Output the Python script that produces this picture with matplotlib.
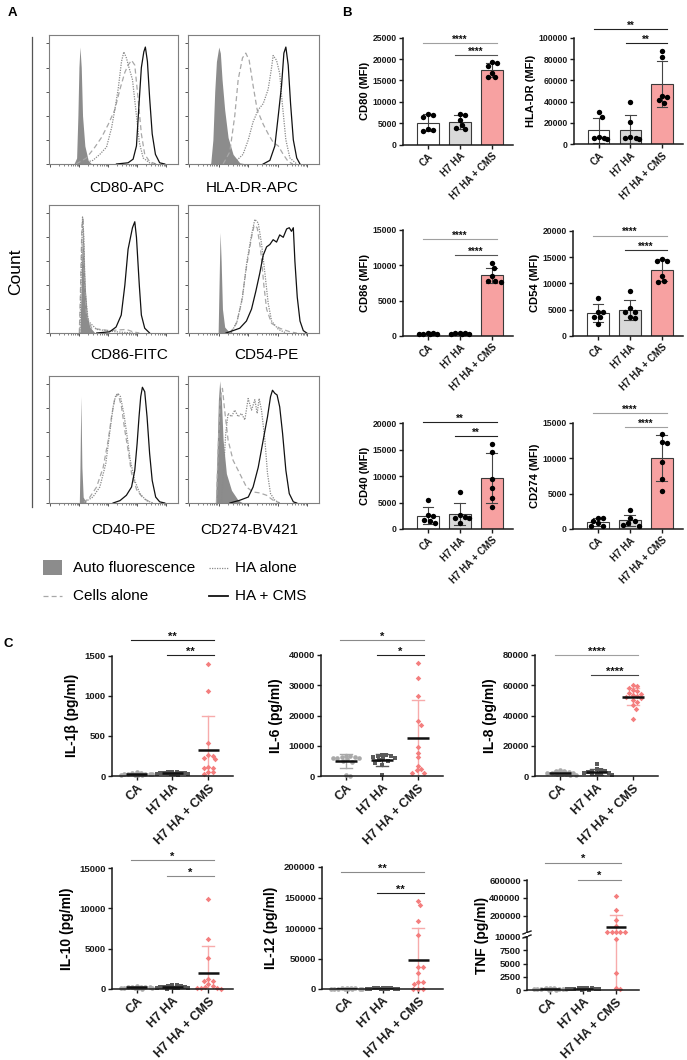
import numpy as np
import matplotlib
matplotlib.use('Agg')
import matplotlib.pyplot as plt
from matplotlib.patches import Rectangle
from matplotlib.transforms import blended_transform_factory

plt.rcParams['font.family'] = ['Liberation Sans', 'DejaVu Sans']

# ---------------- data ----------------
CATS = ['CA', 'H7 HA', 'H7 HA + CMS']
HIST_LABELS = ['CD80-APC', 'HLA-DR-APC', 'CD86-FITC', 'CD54-PE', 'CD40-PE', 'CD274-BV421']
LEGEND_LABELS = ['Auto fluorescence', 'HA alone', 'Cells alone', 'HA + CMS']

# histogram traces (x = % of axis width, y = % of modal count)
CD80_AUTO = [(19.3,0),(21.4,5),(22.4,40),(23.2,80),(24,97),(25,80),(26,40),(27.8,15),(30.4,3),(33,0)]
CD80_CELLS = [(21,0),(29,5),(35.6,14),(40.7,22),(46,33),(51,45),(55,62),(58.8,76),(61.3,82),(64,86),(66.5,82),(69,55),(71.6,25),(74.2,8),(78,2),(83,0)]
CD80_HA = [(24,0),(34,3),(39.4,8),(44.6,14),(48.5,30),(51,45),(53.6,62),(56.2,85),(58,93),(60,88),(62,80),(64.7,70),(67.3,45),(70,18),(73,5),(78,1),(83,0)]
CD80_CMS = [(52.3,0),(61.3,1),(65.2,4),(67.8,15),(69.8,50),(71.6,80),(73.5,93),(74.7,97),(76.3,85),(78,55),(80,25),(82.5,8),(85.8,1),(89.7,0)]

HLADR_AUTO = [(17.3,0),(19,20),(20.4,60),(21.7,85),(23.5,97),(24.7,92),(26,70),(28,45),(30.6,22),(34.4,8),(39.5,1),(44.6,0)]
HLADR_CELLS = [(26.8,0),(31.9,10),(35.7,40),(38.3,70),(41.6,88),(44.1,92),(46.7,86),(49.7,65),(52.8,45),(57.4,33),(61.2,25),(65,18),(68.9,15),(72.7,8),(76.5,2),(80,0)]
HLADR_HA = [(34.4,0),(42,8),(46,20),(49.7,35),(53.6,45),(57.4,50),(61.2,62),(63.8,80),(65,90),(67.6,86),(70,75),(72,50),(74.7,20),(77.8,5),(83,0)]
HLADR_CMS = [(57.4,0),(62.5,3),(66.3,15),(68.9,40),(71.4,65),(73.2,92),(74.7,97),(76.5,82),(78.3,50),(80.4,20),(83,5),(85.5,0)]

CD86_AUTO = [(24,0),(24.7,30),(25.5,70),(26.3,90),(27,70),(28,40),(29.6,15),(31.7,5),(35.6,0)]
CD86_CELLS = [(23.5,0),(24.5,40),(25.5,90),(26.5,95),(27.3,50),(29,15),(33,4),(47,2),(60,3),(65,1),(70,0)]
CD86_HA = [(24,0),(25,50),(26,97),(27,80),(28,35),(30.4,10),(36.9,3),(52,1),(65,0)]
CD86_CMS = [(37,0),(47,1),(52,5),(56,15),(58.8,40),(61.3,70),(64.7,88),(66.5,93),(67.8,80),(70,40),(71.6,15),(74.2,4),(78,0)]

CD54_AUTO = [(23,0),(23.7,40),(24.5,84),(25.3,60),(26.3,20),(28,5),(32,0)]
CD54_CELLS = [(32,0),(37,8),(40.8,25),(44.6,55),(48.5,80),(50.5,90),(52.8,88),(55.4,70),(57.9,40),(60,20),(63.8,8),(70,4),(77.8,1),(83,0)]
CD54_HA = [(33,0),(37.5,10),(41.6,30),(45,60),(48.5,82),(51,95),(53.6,92),(56.1,75),(58.7,50),(61.2,25),(63.8,10),(69,3),(75,0)]
CD54_CMS = [(29,0),(34.4,2),(39.5,4),(44.6,10),(48.5,20),(51.8,35),(54.8,50),(57.4,65),(60,72),(62.5,74),(65,78),(67.6,76),(70,82),(72.7,80),(75.3,87),(77.3,88),(79,85),(80.4,88),(81.6,60),(83.4,30),(85.5,10),(88,2),(90.6,0)]

CD40_AUTO = [(23.5,0),(24,30),(24.7,90),(25.5,30),(26.5,5),(29,0)]
CD40_CELLS = [(26.5,0),(31.7,5),(36.9,13.5),(42,30),(45.9,53),(48.5,73),(51,88),(53.6,92),(56.2,81),(58.8,61),(61.3,44.5),(64,25),(68,11),(73,4),(80,0)]
CD40_HA = [(26.5,0),(34,5),(39.4,13.5),(44,33),(47,58.6),(49.7,81),(51.8,91),(53.6,92),(55.4,89.6),(58,75.5),(60.6,55.8),(63,36),(66.5,19),(70.4,8),(75.5,2),(80.7,0)]
CD40_CMS = [(49.7,0),(55,2),(60,6.5),(64,13.5),(66.5,27.6),(68.3,50),(69.8,72.7),(71.1,89.6),(72.4,97.5),(74.2,93.8),(76,72.7),(78,41.7),(80,19),(82.7,5),(85.8,1),(89.7,0)]

CD274_AUTO = [(21,0),(22.2,44.5),(23.2,86.8),(24.2,103),(25.5,86.8),(26.8,53),(29.3,24.8),(33.2,10.7),(38.3,2.3),(42,0)]
CD274_CELLS = [(21.7,0),(23,44.5),(24.7,89.6),(26.3,96.6),(28,78),(30.6,53),(34.4,36),(39.5,24.8),(44.6,13.5),(49.7,9.3),(54.8,8.5),(60,6.5),(65,2.3),(70,0)]
CD274_HA = [(25.5,0),(27.3,30),(28.8,58.6),(30.6,75.5),(33.2,72.7),(35.7,78.3),(38.3,72.7),(40.8,75.5),(43.4,70),(45.9,88),(48.5,78.3),(51,87),(52.8,75.5),(54.3,88),(56.1,78.3),(58.7,53),(60.7,24.8),(63,7.9),(66.3,2.3),(70,0)]
CD274_CMS = [(32,0),(39.5,2.3),(46,5),(49.7,13.5),(53.6,30),(57.4,53),(60.7,72.7),(63,89.6),(64.5,95),(66.3,92.4),(68,91),(70,81),(72.2,58.6),(74.7,27.6),(77.3,7.9),(80.4,1),(83,0)]

# panel B: MFI, 6 donors per group
CD80_CA = [6930, 6540, 7170, 3270, 3430, 3580]
CD80_H7 = [7090, 6930, 5760, 4600, 3580, 3820]
CD80_CMSV = [18380, 19390, 19160, 15730, 16820, 15730]
HLADR_CA = [30500, 26000, 6500, 6000, 5500, 5000]
HLADR_H7 = [39500, 20500, 6500, 5600, 5500, 4800]
HLADR_CMSV = [87800, 81500, 39000, 45300, 44700, 41500]
CD86_CA = [400, 350, 300, 380, 320, 280]
CD86_H7 = [380, 320, 400, 300, 350, 420]
CD86_CMSV = [10250, 9550, 8450, 7800, 7800, 7650]
CD54_CA = [7280, 4620, 4620, 3540, 3670, 2220]
CD54_H7 = [8540, 4620, 5250, 4620, 3350, 3540]
CD54_CMSV = [14300, 14560, 14300, 10320, 11390, 10440]
CD40_CA = [5500, 2600, 2500, 1700, 1500, 1200]
CD40_H7 = [7070, 2650, 2020, 2210, 2020, 1200]
CD40_CMSV = [16000, 14640, 9460, 7820, 5930, 4100]
CD274_CA = [1600, 1500, 1130, 420, 800, 420]
CD274_H7 = [2650, 1600, 1100, 900, 550, 420]
CD274_CMSV = [13470, 12160, 12300, 9480, 7040, 5350]

# panel C: cytokines (pg/ml)
IL1B_CA = [8, 12, 15, 18, 20, 22, 25, 28, 30, 33, 38, 45]
IL1B_H7 = [15, 20, 25, 28, 30, 33, 36, 40, 42, 45, 50, 55]
IL1B_CMS = [1400, 1060, 410, 260, 255, 225, 215, 110, 105, 100, 55, 50, 20]
IL6_CA = [6600, 6500, 6400, 6300, 6100, 6000, 5800, 5500, 5000, 4600, 300, 150]
IL6_H7 = [7000, 6900, 6700, 6500, 6200, 6000, 5600, 5200, 4800, 4200, 3500, 200]
IL6_CMS = [37200, 32300, 26500, 18200, 17000, 9700, 7700, 6200, 3400, 2200, 1900, 1100, 1000]
IL8_CA = [500, 800, 1000, 1200, 1500, 1800, 2000, 2300, 2600, 3000, 3500, 4200]
IL8_H7 = [800, 1000, 1300, 1600, 2000, 2300, 2600, 3000, 3500, 4000, 4500, 8000]
IL8_CMS = [60000, 59500, 58500, 57000, 56000, 55000, 54500, 53500, 53000, 52500, 51500, 50500, 49000, 47000, 44500, 38000]
IL10_CA = [50, 80, 100, 120, 150, 180, 200, 220, 250, 280, 300, 350]
IL10_H7 = [60, 90, 120, 150, 180, 220, 250, 300, 350, 400, 450, 550]
IL10_CMS = [11200, 6250, 3900, 1250, 1050, 950, 600, 350, 200, 150, 100, 80, 50]
IL12_CA = [100, 200, 300, 400, 500, 600, 700, 800, 900, 1000, 1200, 1500]
IL12_H7 = [150, 250, 350, 450, 550, 650, 750, 850, 950, 1100, 1300, 1600]
IL12_CMS = [144000, 137000, 112000, 88000, 36000, 35500, 26500, 12000, 11500, 7500, 800, 600, 500]
TNF_CA = [50, 80, 100, 120, 150, 180, 200, 220, 250, 300, 350, 400]
TNF_H7 = [60, 90, 110, 140, 170, 200, 230, 260, 300, 340, 380, 450]
TNF_CMS = [425000, 266000, 155000, 88000, 26000, 24000, 23000, 22000, 21000, 9600, 3250, 300, 250]

# ---------------- styling ----------------
W, H = 687, 1060
fig = plt.figure(figsize=(W / 100, H / 100), dpi=100)
BAR_COLORS = ['white', '#d9d9d9', '#f7a1a1']
DOT_COLORS = ['#a9a9a9', '#5a5a5a', '#f47e7e']
ERR_COLORS = ['#a9a9a9', '#5a5a5a', '#f7abab']
DOT_MARKERS = ['o', 's', 'D']
GRAY = '#8a8a8a'
DARK = '#222222'


def rect(x0, y0, x1, y1):
    return [x0 / W, 1 - y1 / H, (x1 - x0) / W, (y1 - y0) / H]


ov = fig.add_axes([0, 0, 1, 1], zorder=10)
ov.set_xlim(0, W)
ov.set_ylim(H, 0)
ov.axis('off')


def swarm_x(ax, xc, vals, diam, maxhalf):
    vals = np.asarray(vals, float)
    pts = ax.transData.transform(np.column_stack([np.full(len(vals), xc, float), vals]))
    ypix = pts[:, 1]
    ppu = ax.transData.transform((1, 0))[0] - ax.transData.transform((0, 0))[0]
    step = diam / 3.0
    cands = [0.0]
    k = 1
    while k * step <= maxhalf:
        cands += [k * step, -k * step]
        k += 1
    placed = []
    offs = np.zeros(len(vals))
    for idx in np.argsort(-vals):
        y = ypix[idx]
        chosen = None
        best, bestd = 0.0, -1
        for c in cands:
            d = min([np.hypot(c - px, y - py) for px, py in placed] + [1e9])
            if d >= diam:
                chosen = c
                break
            if d > bestd:
                best, bestd = c, d
        if chosen is None:
            chosen = best
        placed.append((chosen, y))
        offs[idx] = chosen / ppu
    return xc + offs


def style_prism(ax, yticks, fs):
    for s in ('top', 'right'):
        ax.spines[s].set_visible(False)
    for s in ('left', 'bottom'):
        ax.spines[s].set_linewidth(1.1)
        ax.spines[s].set_color('#1a1a1a')
    ax.set_yticks(yticks)
    ax.set_yticklabels([f'{int(t)}' for t in yticks], fontsize=fs, fontweight='bold')
    ax.tick_params(axis='both', direction='out', length=3, width=1.0, pad=1.5, colors='#1a1a1a')


def draw_sigs(ax, sigs, fs=7):
    tr = blended_transform_factory(ax.transData, ax.transAxes)
    for i, j, yf, lab, col in sigs:
        ax.plot([i - 0.15, j + 0.15], [yf, yf], transform=tr, color=col, lw=0.8, clip_on=False)
        ax.text((i + j) / 2, yf - 0.015, lab, transform=tr, ha='center', va='bottom',
                fontsize=fs, fontweight='bold', clip_on=False, color='#111111')


def cat_labels(ax, fs):
    ax.set_xticks([0, 1, 2])
    ax.set_xticklabels(CATS, rotation=45, ha='right', rotation_mode='anchor',
                       fontsize=fs, fontweight='bold')


# ---------------- panel A ----------------
def draw_hist(box, auto, cells, ha, cms):
    ax = fig.add_axes(rect(*box))
    xa, ya = np.array(auto, float).T
    ax.fill_between(xa, ya, 0, color='#8c8c8c', lw=0, zorder=1)
    x, y = np.array(cells, float).T
    ax.plot(x, y, color='#a8a8a8', ls=(0, (4, 2.5)), lw=0.9, zorder=2)
    x, y = np.array(ha, float).T
    ax.plot(x, y, color='#8a8a8a', ls=(0, (1, 1)), lw=0.9, zorder=3)
    x, y = np.array(cms, float).T
    ax.plot(x, y, color='#111111', lw=0.9, zorder=4)
    ax.set_xlim(0, 100)
    ax.set_ylim(0, 107)
    for s in ax.spines.values():
        s.set_color('#7f7f7f')
        s.set_linewidth(0.8)
    ax.set_yticks([0, 20, 40, 60, 80, 100])
    ax.set_yticklabels([])
    major = [1, 23.5, 46, 68.5, 91]
    minor = []
    for a in major[:-1]:
        minor += [a + 22.5 * np.log10(k) for k in range(2, 10)]
    ax.set_xticks(major)
    ax.set_xticks(minor, minor=True)
    ax.set_xticklabels([])
    ax.tick_params(axis='both', which='major', direction='out', length=2.5, width=0.7, colors='#555555')
    ax.tick_params(axis='x', which='minor', direction='out', length=1.5, width=0.5, colors='#555555')
    return ax


hist_boxes = [(49, 35, 178, 164), (188, 35, 319, 164), (49, 205, 178, 333),
              (188, 205, 319, 333), (49, 376, 178, 503), (188, 376, 319, 503)]
hist_data = [(CD80_AUTO, CD80_CELLS, CD80_HA, CD80_CMS),
             (HLADR_AUTO, HLADR_CELLS, HLADR_HA, HLADR_CMS),
             (CD86_AUTO, CD86_CELLS, CD86_HA, CD86_CMS),
             (CD54_AUTO, CD54_CELLS, CD54_HA, CD54_CMS),
             (CD40_AUTO, CD40_CELLS, CD40_HA, CD40_CMS),
             (CD274_AUTO, CD274_CELLS, CD274_HA, CD274_CMS)]
label_pos = [(127, 188), (252, 188), (129, 355), (266, 355), (123, 530), (249, 530)]
for box, d, lab, (lx, ly) in zip(hist_boxes, hist_data, HIST_LABELS, label_pos):
    draw_hist(box, *d)
    ov.text(lx, ly, lab, ha='center', va='center', fontsize=11)

ov.plot([32, 32], [37, 507], color='#555555', lw=0.9)
ov.text(16, 272, 'Count', rotation=90, ha='center', va='center', fontsize=12.5)

# legend
ov.add_patch(Rectangle((43, 560), 19, 15, color='#8c8c8c', lw=0))
ov.plot([209, 228], [568, 568], color='#8a8a8a', ls=(0, (1, 1)), lw=0.9)
ov.plot([43, 62], [596, 596], color='#a8a8a8', ls=(0, (4, 2.5)), lw=0.9)
ov.plot([209, 228], [596, 596], color='#111111', lw=1.3)
ov.text(73, 568, LEGEND_LABELS[0], va='center', fontsize=11)
ov.text(235, 568, LEGEND_LABELS[1], va='center', fontsize=11)
ov.text(73, 596, LEGEND_LABELS[2], va='center', fontsize=11)
ov.text(235, 596, LEGEND_LABELS[3], va='center', fontsize=11)

# panel letters
ov.text(8, 13, 'A', ha='left', va='center', fontsize=9.5, fontweight='bold')
ov.text(342, 13, 'B', ha='left', va='center', fontsize=9.5, fontweight='bold')
ov.text(4, 644, 'C', ha='left', va='center', fontsize=9.5, fontweight='bold')


# ---------------- panel B ----------------
def draw_bar(box, groups, ymax, ystep, ylabel, sigs):
    ax = fig.add_axes(rect(*box))
    ax.set_xlim(-0.78, 2.66)
    ax.set_ylim(0, ymax)
    style_prism(ax, np.arange(0, ymax + 1, ystep), 6.2)
    for i, vals in enumerate(groups):
        v = np.asarray(vals, float)
        m, sd = v.mean(), v.std(ddof=1)
        ax.bar(i, m, width=0.68, color=BAR_COLORS[i], edgecolor='#3a3a3a', lw=0.8, zorder=1)
        ax.plot([i, i], [m - sd, m + sd], color='#444444', lw=0.8, zorder=2)
        ax.plot([i - 0.17, i + 0.17], [m + sd, m + sd], color='#444444', lw=0.8, zorder=2)
        ax.plot([i - 0.17, i + 0.17], [m - sd, m - sd], color='#444444', lw=0.8, zorder=2)
        xs = swarm_x(ax, i, v, 5.2, 9)
        ax.scatter(xs, v, s=15, color='black', zorder=3, clip_on=False, lw=0)
    cat_labels(ax, 7)
    ax.set_ylabel(ylabel, fontsize=8, fontweight='bold', labelpad=2)
    draw_sigs(ax, sigs)
    return ax


draw_bar((403, 37.7, 513, 144.7), [CD80_CA, CD80_H7, CD80_CMSV], 25000, 5000, 'CD80 (MFI)',
         [(0, 2, 0.95, '****', '#a0a0a0'), (1, 2, 0.838, '****', '#555555')])
draw_bar((574, 37.7, 683, 144.3), [HLADR_CA, HLADR_H7, HLADR_CMSV], 100000, 20000, 'HLA-DR (MFI)',
         [(0, 2, 1.082, '**', DARK), (1, 2, 0.95, '**', DARK)])
draw_bar((403, 229.7, 513, 336), [CD86_CA, CD86_H7, CD86_CMSV], 15000, 5000, 'CD86 (MFI)',
         [(0, 2, 0.913, '****', '#a0a0a0'), (1, 2, 0.762, '****', '#555555')])
draw_bar((573, 230.7, 683, 336), [CD54_CA, CD54_H7, CD54_CMSV], 20000, 5000, 'CD54 (MFI)',
         [(0, 2, 0.952, '****', '#a0a0a0'), (1, 2, 0.817, '****', '#333333')])
draw_bar((403, 423.3, 513, 529), [CD40_CA, CD40_H7, CD40_CMSV], 20000, 5000, 'CD40 (MFI)',
         [(0, 2, 1.01, '**', DARK), (1, 2, 0.88, '**', DARK)])
draw_bar((573, 422.7, 683, 529), [CD274_CA, CD274_H7, CD274_CMSV], 15000, 5000, 'CD274 (MFI)',
         [(0, 2, 1.088, '****', '#a0a0a0'), (1, 2, 0.957, '****', '#a0a0a0')])


# ---------------- panel C ----------------
def draw_groups(ax, groups, lo=None, hi=None):
    for i, vals in enumerate(groups):
        v = np.asarray(vals, float)
        m, sd = v.mean(), v.std(ddof=1)
        ax.plot([i, i], [max(m - sd, 0), m + sd], color=ERR_COLORS[i], lw=1.0, zorder=1)
        ax.plot([i - 0.17, i + 0.17], [m + sd, m + sd], color=ERR_COLORS[i], lw=1.0, zorder=1)
        if m - sd > 0:
            ax.plot([i - 0.17, i + 0.17], [m - sd, m - sd], color=ERR_COLORS[i], lw=1.0, zorder=1)
        sel = np.ones(len(v), bool)
        if lo is not None:
            sel &= v >= lo
        if hi is not None:
            sel &= v <= hi
        if sel.any():
            xs = swarm_x(ax, i, v[sel], 4.3, 16)
            ax.scatter(xs, v[sel], s=11 if DOT_MARKERS[i] != 'D' else 8, marker=DOT_MARKERS[i],
                       color=DOT_COLORS[i], zorder=2, clip_on=False, lw=0)
        ylo, yhi = ax.get_ylim()
        if ylo <= m <= yhi:
            ax.plot([i - 0.3, i + 0.3], [m, m], color='#111111', lw=1.8, zorder=3,
                    solid_capstyle='butt')


def draw_dot(box, groups, ymax, ystep, ylabel, sigs):
    ax = fig.add_axes(rect(*box))
    ax.set_xlim(-0.69, 2.69)
    ax.set_ylim(0, ymax)
    style_prism(ax, np.arange(0, ymax + 1, ystep), 6.8)
    draw_groups(ax, groups)
    cat_labels(ax, 9)
    ax.set_ylabel(ylabel, fontsize=10, fontweight='bold', labelpad=4)
    draw_sigs(ax, sigs, fs=8)
    return ax


draw_dot((112, 655.5, 233, 776), [IL1B_CA, IL1B_H7, IL1B_CMS], 1500, 500, 'IL-1\u03b2 (pg/ml)',
         [(0, 2, 1.129, '**', DARK), (1, 2, 1.004, '**', DARK)])
draw_dot((321, 655, 443, 776), [IL6_CA, IL6_H7, IL6_CMS], 40000, 10000, 'IL-6 (pg/ml)',
         [(0, 2, 1.124, '*', GRAY), (1, 2, 1.0, '*', DARK)])
draw_dot((535, 655, 658, 776), [IL8_CA, IL8_H7, IL8_CMS], 80000, 20000, 'IL-8 (pg/ml)',
         [(0, 2, 1.0, '****', '#a0a0a0'), (1, 2, 0.835, '****', '#444444')])
draw_dot((112, 868, 233, 989), [IL10_CA, IL10_H7, IL10_CMS], 15000, 5000, 'IL-10 (pg/ml)',
         [(0, 2, 1.066, '*', GRAY), (1, 2, 0.934, '*', GRAY)])
draw_dot((322, 867, 443, 989), [IL12_CA, IL12_H7, IL12_CMS], 200000, 50000, 'IL-12 (pg/ml)',
         [(0, 2, 0.959, '**', GRAY), (1, 2, 0.787, '**', DARK)])

# TNF with broken axis
axu = fig.add_axes(rect(527, 880, 639, 933))
axl = fig.add_axes(rect(527, 937, 639, 990))
TNF_GROUPS = [TNF_CA, TNF_H7, TNF_CMS]
for ax in (axu, axl):
    ax.set_xlim(-0.7, 2.7)
axu.set_ylim(10000, 600000)
axl.set_ylim(0, 10000)
style_prism(axu, [200000, 400000, 600000], 6.8)
style_prism(axl, [0, 2500, 5000, 7500, 10000], 6.8)
axu.spines['bottom'].set_visible(False)
axu.set_xticks([])
draw_groups(axu, TNF_GROUPS, lo=10000)
draw_groups(axl, TNF_GROUPS, hi=10000)
cat_labels(axl, 9)
fig.text(482 / W, 1 - 935 / H, 'TNF (pg/ml)', rotation=90, ha='center', va='center',
         fontsize=10, fontweight='bold')
draw_sigs(axu, [(0, 2, 1.32, '*', GRAY), (1, 2, 1.0, '*', GRAY)], fs=8)
for yy in (932.5, 936.5):
    ov.plot([523, 531], [yy + 1.5, yy - 1.5], color='#1a1a1a', lw=1.0)
ov.add_patch(Rectangle((526, 933.2), 2.2, 3.2, color='white', lw=0, zorder=5))

fig.savefig('out.png', dpi=100)
